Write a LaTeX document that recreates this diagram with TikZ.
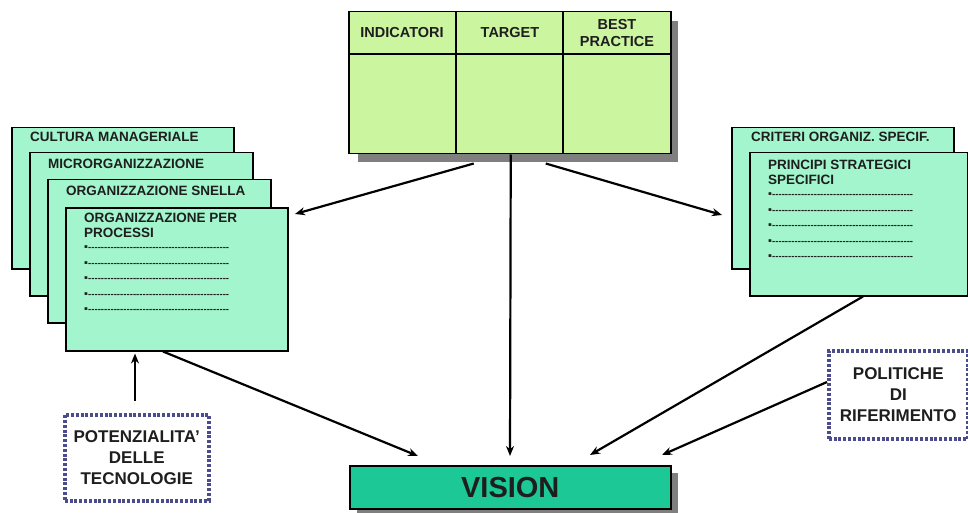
\documentclass[tikz,border=0pt]{standalone}
\usepackage{fontspec}
\setmainfont{Liberation Sans}
\usetikzlibrary{arrows.meta,calc}
\definecolor{tablegreen}{HTML}{CCF5A0}
\definecolor{aqua}{HTML}{A2F5CC}
\definecolor{visiongreen}{HTML}{1CC896}
\definecolor{shadowgray}{HTML}{7F7F7F}
\definecolor{dotblue}{HTML}{4C4C8C}
\definecolor{txt}{HTML}{1E1E1E}
\newcommand{\bulline}{\hbox to 145pt{\fontsize{11}{11}\selectfont ▪\fontsize{9.5}{9.5}\selectfont\xleaders\hbox{-}\hfill}}
\tikzset{
  card/.style={draw=black, line width=1.5pt, fill=aqua, anchor=north west, inner sep=0pt},
  cardtext/.style={anchor=north west, inner sep=0pt, align=left, text=txt, font=\bfseries\fontsize{13.5}{14.5}\selectfont},
  bullets/.style={anchor=north west, inner sep=0pt, align=left, text=txt, font=\bfseries\fontsize{9.5}{15.5}\selectfont},
  dotbox/.style={draw=dotblue, line width=3.5pt, dash pattern=on 3pt off 1.8pt, fill=white, anchor=north west, inner sep=0pt, align=center, text=txt, font=\bfseries\fontsize{17}{21}\selectfont},
  conn/.style={-{Stealth[length=10pt,width=8pt]}, line width=2.2pt, black},
  hdr/.style={inner sep=0pt, align=center, text=txt, font=\bfseries\fontsize{14.5}{17}\selectfont}
}
\begin{document}
\begin{tikzpicture}[x=1pt,y=-1pt]
\useasboundingbox (0,0) rectangle (968,513);
% ---- top table ----
\fill[shadowgray] (358,21) rectangle (678,162);
\node[draw=black, line width=1.5pt, fill=tablegreen, anchor=north west, minimum width=322pt, minimum height=142pt, inner sep=0pt] (tbl) at (348,11) {};
\draw[line width=1.5pt] (tbl.north west) ++(0,43) -- ++(322,0);
\draw[line width=1.5pt] (tbl.north west) ++(108,0) -- ++(0,142);
\draw[line width=1.5pt] (tbl.north west) ++(215,0) -- ++(0,142);
\node[hdr] (h1) at (402,33) {INDICATORI};
\node[hdr] (h2) at (510,33) {TARGET};
\node[hdr] (h3) at (617,33) {BEST\\PRACTICE};
% ---- left stack ----
\node[card, minimum width=222pt, minimum height=141pt] (b1) at (11,127) {};
\node[cardtext] (t1) at (30,132) {CULTURA MANAGERIALE};
\node[card, minimum width=223pt, minimum height=143pt] (b2) at (29,152) {};
\node[cardtext] (t2) at (48,159) {MICRORGANIZZAZIONE};
\node[card, minimum width=223pt, minimum height=143pt] (b3) at (47,179) {};
\node[cardtext] (t3) at (66,186) {ORGANIZZAZIONE SNELLA};
\node[card, minimum width=222pt, minimum height=143pt] (b4) at (65,207) {};
\node[cardtext] (t4) at (84,213) {ORGANIZZAZIONE PER\\PROCESSI};
\node[bullets] (l4) at (84,246) {\bulline\\\bulline\\\bulline\\\bulline\\\bulline};
% ---- right stack ----
\node[card, minimum width=222pt, minimum height=141pt] (rA) at (731,127) {};
\node[cardtext] (tA) at (751,132) {CRITERI ORGANIZ. SPECIF.};
\node[card, minimum width=218pt, minimum height=143pt] (rB) at (749,152) {};
\node[cardtext] (tB) at (768,160) {PRINCIPI STRATEGICI\\SPECIFICI};
\node[bullets] (lB) at (768,193) {\bulline\\\bulline\\\bulline\\\bulline\\\bulline};
% ---- vision ----
\fill[shadowgray] (357,473) rectangle (678,513);
\node[draw=black, line width=1.5pt, fill=visiongreen, anchor=north west, minimum width=321pt, minimum height=43pt, inner sep=0pt, font=\bfseries\fontsize{29}{30}\selectfont, text=txt] (vis) at (349,465) {VISION};
% ---- dotted boxes ----
\node[dotbox, minimum width=144pt, minimum height=86pt] (pot) at (63,413) {POTENZIALITA'\\DELLE\\TECNOLOGIE};
\node[dotbox, minimum width=139pt, minimum height=88pt] (pol) at (827,349) {POLITICHE\\DI\\RIFERIMENTO};
% ---- connectors ----
\coordinate (e1) at (295,214);
\coordinate (e3) at (722,215);
\coordinate (v1) at (418,456);
\coordinate (v2) at (510,456);
\coordinate (v3) at (590,455);
\coordinate (v4) at (662,455);
\draw[conn] ($(tbl.south)+(-36,9)$) -- (e1);
\draw[conn] ($(tbl.south)+(1,0)$) -- (v2);
\draw[conn] ($(tbl.south)+(36,9)$) -- (e3);
\draw[conn] ($(b4.south west)+(98,0)$) -- (v1);
\draw[conn] ($(rB.south west)+(114,0)$) -- (v3);
\draw[conn] ($(pol.north west)+(0,33)$) -- (v4);
\draw[conn] ($(pot.north west)+(72,-12)$) -- ($(b4.south west)+(70,2)$);
\end{tikzpicture}
\end{document}
